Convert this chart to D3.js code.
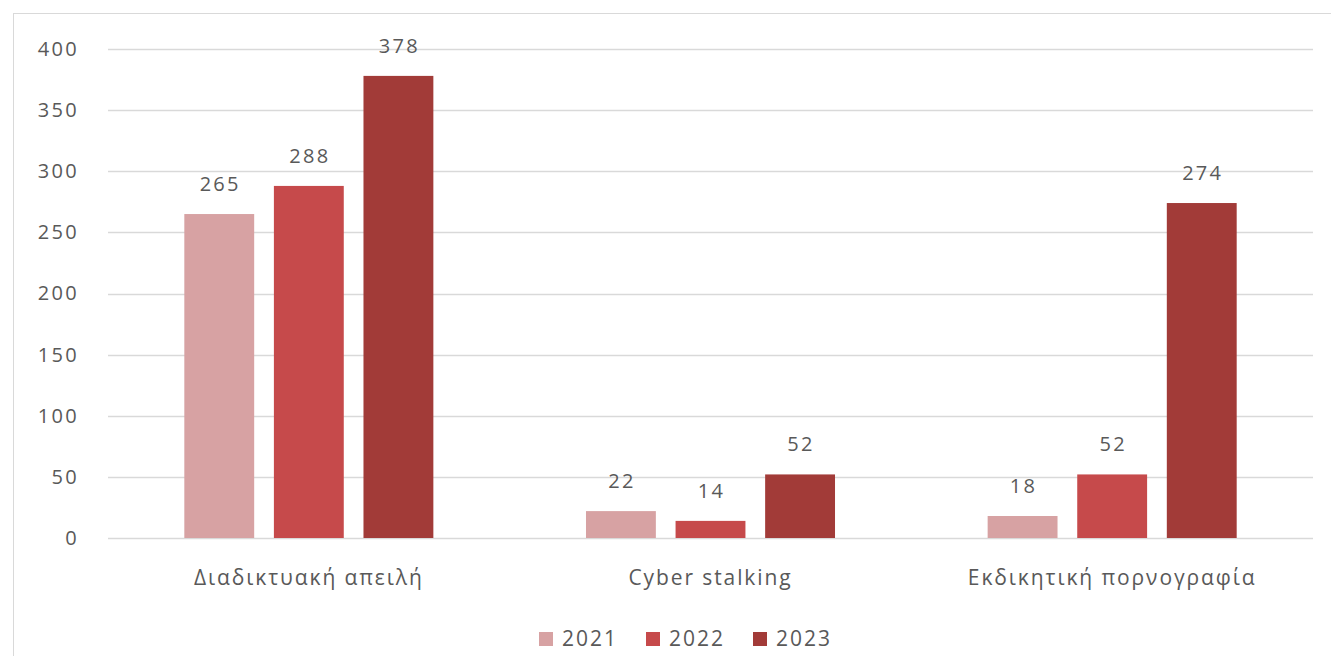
<!DOCTYPE html>
<html>
<head>
<meta charset="utf-8">
<script src="https://cdn.jsdelivr.net/npm/d3@7"></script>
<style>
  body { margin: 0; background: #fff; }
  text { font-family: "Open Sans", "Liberation Sans", sans-serif; fill: #595959; }
</style>
</head>
<body>
<div id="chart"></div>
<script>
// chart data
const categories = ["Διαδικτυακή απειλή", "Cyber stalking", "Εκδικητική πορνογραφία"];
const years = ["2021", "2022", "2023"];
const values2021 = [265, 22, 18];
const values2022 = [288, 14, 52];
const values2023 = [378, 52, 274];
const yTicks = [0, 50, 100, 150, 200, 250, 300, 350, 400];
const colors = ["#d7a2a3", "#c64a4b", "#a23b38"];

const width = 1331, height = 656;
const margin = { top: 49, right: 18, bottom: 118, left: 108 };

const svg = d3.select("#chart").append("svg")
    .attr("width", width)
    .attr("height", height);

// outer chart border
svg.append("rect")
    .attr("x", 13.5).attr("y", 13.5)
    .attr("width", width + 20).attr("height", height + 20)
    .attr("fill", "none")
    .attr("stroke", "#d9d9d9");

const x0 = d3.scaleBand()
    .domain(categories)
    .range([margin.left, width - margin.right])
    .paddingInner(0.38)
    .paddingOuter(0.19);

const x1 = d3.scaleBand()
    .domain(years)
    .range([0, x0.bandwidth()])
    .paddingInner(0.22)
    .paddingOuter(0);

const y = d3.scaleLinear()
    .domain([0, 400])
    .range([height - margin.bottom, margin.top]);

// gridlines
svg.append("g")
    .selectAll("line")
    .data(yTicks)
    .join("line")
    .attr("x1", margin.left)
    .attr("x2", width - margin.right)
    .attr("y1", d => Math.round(y(d)) + 0.5)
    .attr("y2", d => Math.round(y(d)) + 0.5)
    .attr("stroke", "#d9d9d9")
    .attr("stroke-width", 1.5);

// y axis labels
const yAxis = svg.append("g")
    .attr("transform", "translate(79,0)")
    .call(d3.axisLeft(y).tickValues(yTicks).tickSize(0).tickPadding(0));
yAxis.select(".domain").remove();
yAxis.selectAll("text")
    .style("font-size", "20px")
    .style("letter-spacing", "2.3px")
    .attr("fill", "#595959");

// bars
const series = [values2021, values2022, values2023];
const rows = categories.map((c, i) => ({
    category: c,
    values: years.map((yr, j) => ({ year: yr, value: series[j][i], color: colors[j] }))
}));

const groups = svg.append("g")
    .selectAll("g")
    .data(rows)
    .join("g")
    .attr("transform", d => `translate(${x0(d.category)},0)`);

groups.selectAll("rect")
    .data(d => d.values)
    .join("rect")
    .attr("x", d => x1(d.year))
    .attr("y", d => y(d.value))
    .attr("width", x1.bandwidth())
    .attr("height", d => y(0) - y(d.value))
    .attr("fill", d => d.color);

// data labels
groups.selectAll("text")
    .data(d => d.values)
    .join("text")
    .attr("x", d => x1(d.year) + x1.bandwidth() / 2 + 1)
    .attr("y", d => y(d.value) - 23)
    .attr("text-anchor", "middle")
    .style("font-size", "20px")
    .style("letter-spacing", "2.3px")
    .attr("fill", "#404040")
    .text(d => d.value);

// category labels
const xAxis = svg.append("g")
    .attr("transform", `translate(0,${y(0)})`)
    .call(d3.axisBottom(x0).tickSize(0).tickPadding(32));
xAxis.select(".domain").remove();
xAxis.selectAll("text")
    .style("font-size", "21px")
    .style("letter-spacing", "1.9px")
    .attr("fill", "#595959");

// legend
const legend = svg.append("g")
    .attr("transform", "translate(539,632)");
const item = legend.selectAll("g")
    .data(years)
    .join("g")
    .attr("transform", (d, i) => `translate(${i * 107},0)`);
item.append("rect")
    .attr("x", 0).attr("y", 0)
    .attr("width", 14).attr("height", 14)
    .attr("fill", (d, i) => colors[i]);
item.append("text")
    .attr("x", 23).attr("y", 7)
    .attr("dy", "0.35em")
    .style("font-size", "21px")
    .style("letter-spacing", "2px")
    .text(d => d);
</script>
</body>
</html>
